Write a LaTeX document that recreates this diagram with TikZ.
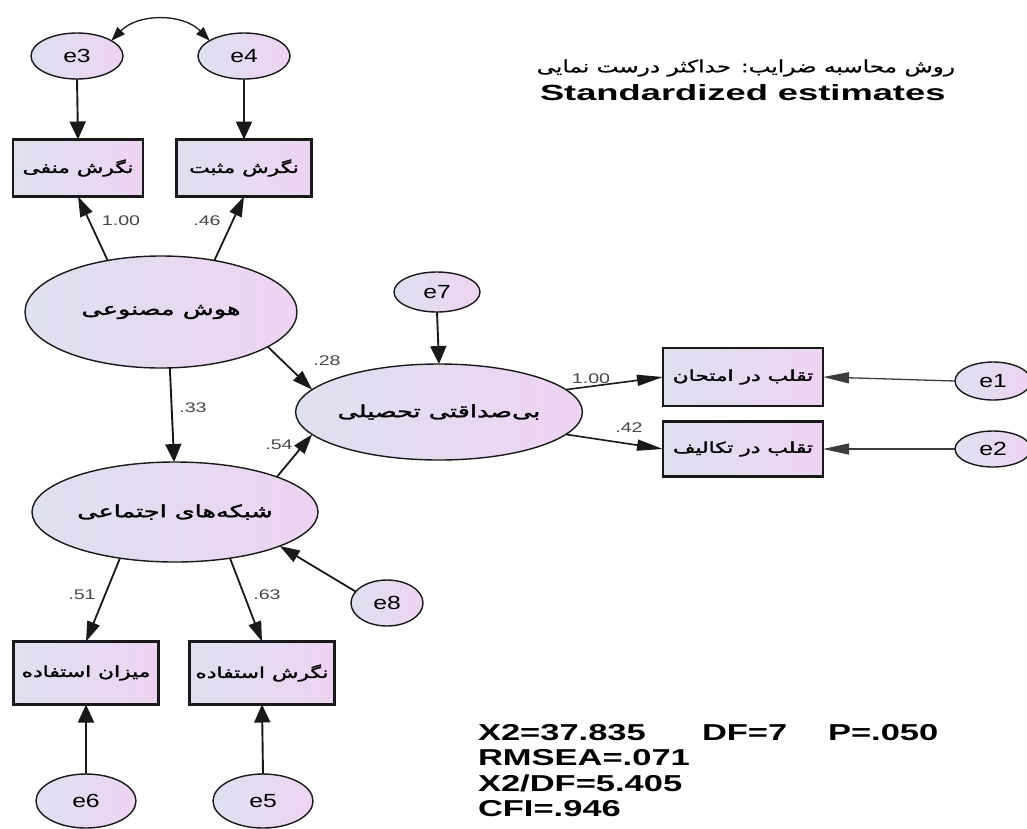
\documentclass[tikz,border=0pt]{standalone}
\usepackage{fontspec}
\TeXXeTstate=1
\setmainfont{Liberation Sans}
\newfontfamily\fa[Script=Arabic,FakeBold=1.6]{DejaVu Sans}
\newfontfamily\fatitle[Script=Arabic,FakeBold=0.6]{DejaVu Sans}
\usetikzlibrary{shapes.geometric,arrows.meta}
\definecolor{cL}{RGB}{222,224,240}
\definecolor{cR}{RGB}{238,212,242}
\definecolor{ink}{RGB}{25,25,25}
\newcommand\sx[2]{\scalebox{#1}[1]{#2}}
\newcommand\fat[1]{{\fa\fontsize{15}{15}\selectfont\sx{1.45}{\beginR #1\endR}}}
\newcommand\fal[1]{{\fa\fontsize{17}{17}\selectfont\sx{1.5}{\beginR #1\endR}}}
\newcommand\el[1]{{\fontsize{19}{19}\selectfont\sx{1.3}{#1}}}
\tikzset{
  every node/.style={inner sep=0pt, outer sep=0pt},
  shd/.style={left color=cL, right color=cR},
  lat/.style={ellipse, draw=ink, line width=1.4pt, shd},
  obs/.style={rectangle, draw=ink, line width=2.4pt, shd},
  arrv/.style={draw=ink, line width=1.9pt, -{Triangle[length=18pt,width=16pt]}},
  arrd/.style={draw=ink, line width=1.8pt, -{Triangle[length=20pt,width=13pt]}},
  arrh/.style={draw=ink!85, line width=1.3pt, -{Triangle[length=26pt,width=11pt]}},
  cov/.style={draw=ink, line width=1.3pt, {Triangle[length=14pt,width=10pt]}-{Triangle[length=14pt,width=10pt]}},
  lbl/.style={font=\fontsize{14}{14}\selectfont, text=ink!80},
  stat/.style={font=\fontsize{23}{23}\selectfont\bfseries, anchor=west},
}
\begin{document}
\begin{tikzpicture}[x=1pt,y=-1pt]
\useasboundingbox (0,0) rectangle (1027,828);
\fill[white] (0,0) rectangle (1027,828);
% error terms top
\node[lat, minimum width=92pt, minimum height=46pt] (e3) at (77,56) {\el{e3}};
\node[lat, minimum width=92pt, minimum height=46pt] (e4) at (244,56) {\el{e4}};
% indicators top
\node[obs, minimum width=130pt, minimum height=57pt] (neg) at (78,168) {\fat{نگرش منفی}};
\node[obs, minimum width=135pt, minimum height=57pt] (pos) at (244,168) {\fat{نگرش مثبت}};
% latent variables
\node[lat, minimum width=272pt, minimum height=112pt] (hosh) at (161,312) {\fal{هوش مصنوعی}};
\node[lat, minimum width=286pt, minimum height=100pt] (shab) at (175,512) {\fal{شبکه^^^^200cهای اجتماعی}};
\node[lat, minimum width=248pt, minimum height=96pt] (bis) at (439,412) {\fal{بی^^^^200cصداقتی تحصیلی}};
\node[lat, minimum width=86pt, minimum height=40pt] (e7) at (437,292) {\el{e7}};
% right indicators
\node[obs, minimum width=160pt, minimum height=58pt] (tq1) at (743,377) {\fat{تقلب در امتحان}};
\node[obs, minimum width=160pt, minimum height=55pt] (tq2) at (743,449) {\fat{تقلب در تکالیف}};
\node[lat, minimum width=76pt, minimum height=38pt] (e1) at (993,381) {\el{e1}};
\node[lat, minimum width=76pt, minimum height=36pt] (e2) at (993,449) {\el{e2}};
% bottom
\node[lat, minimum width=72pt, minimum height=46pt] (e8) at (387,603) {\el{e8}};
\node[obs, minimum width=145pt, minimum height=63pt] (mz) at (86,673) {\fat{میزان استفاده}};
\node[obs, minimum width=145pt, minimum height=63pt] (ng) at (262,673) {\fat{نگرش استفاده}};
\node[lat, minimum width=100pt, minimum height=54pt] (e6) at (86,801) {\el{e6}};
\node[lat, minimum width=100pt, minimum height=54pt] (e5) at (263,801) {\el{e5}};
% connectors
\draw[cov] (e3.24) to[bend left=46] (e4.156);
\draw[arrv] (e3.south) -- (neg.north);
\draw[arrv] (e4.south) -- (pos.north);
\draw[arrd] (hosh.136) -- (neg.south);
\draw[arrd] (hosh.44) -- (pos.south);
\draw[arrv] (hosh.-81) -- (shab.91);
\draw[arrd] (hosh.-18) -- (bis.170);
\draw[arrd] (shab.19) -- (bis.-170);
\draw[arrv] (e7.south) -- (bis.north);
\draw[arrh, draw=ink, line width=1.6pt] (bis.10) -- (tq1.west);
\draw[arrh, draw=ink, line width=1.6pt] (bis.-10) -- (tq2.west);
\draw[arrh] (e1.west) -- (tq1.east);
\draw[arrh] (e2.west) -- (tq2.east);
\draw[arrd] (shab.-140) -- (mz.north);
\draw[arrd] (shab.-40) -- (ng.north);
\draw[arrd] (e8.160) -- (shab.-18);
\draw[arrv] (e6.north) -- (mz.south);
\draw[arrv] (e5.north) -- (ng.south);
% path labels
\node[lbl] (l1) at (121,221) {\sx{1.4}{1.00}};
\node[lbl] (l2) at (207,221) {\sx{1.4}{.46}};
\node[lbl] (l3) at (193,408) {\sx{1.4}{.33}};
\node[lbl] (l4) at (327,361) {\sx{1.4}{.28}};
\node[lbl] (l5) at (279,445) {\sx{1.4}{.54}};
\node[lbl] (l6) at (591,379) {\sx{1.4}{1.00}};
\node[lbl] (l7) at (629,428) {\sx{1.4}{.42}};
\node[lbl] (l8) at (82,595) {\sx{1.4}{.51}};
\node[lbl] (l9) at (267,595) {\sx{1.4}{.63}};
% titles
\node[anchor=east] (t1) at (955,68) {\fatitle\fontsize{17}{17}\selectfont\sx{1.36}{\beginR روش محاسبه ضرایب: حداکثر درست نمایی\endR}};
\node[anchor=west] (t2) at (540,93) {\fontsize{22}{22}\selectfont\bfseries\sx{1.65}{Standardized estimates}};
% fit statistics
\node[stat] (s1) at (478,733) {\sx{1.5}{X2=37.835}};
\node[stat] (s2) at (702,733) {\sx{1.5}{DF=7}};
\node[stat] (s3) at (828,733) {\sx{1.5}{P=.050}};
\node[stat] (s4) at (478,758) {\sx{1.5}{RMSEA=.071}};
\node[stat] (s5) at (478,783) {\sx{1.5}{X2/DF=5.405}};
\node[stat] (s6) at (478,809) {\sx{1.5}{CFI=.946}};
\end{tikzpicture}
\end{document}
